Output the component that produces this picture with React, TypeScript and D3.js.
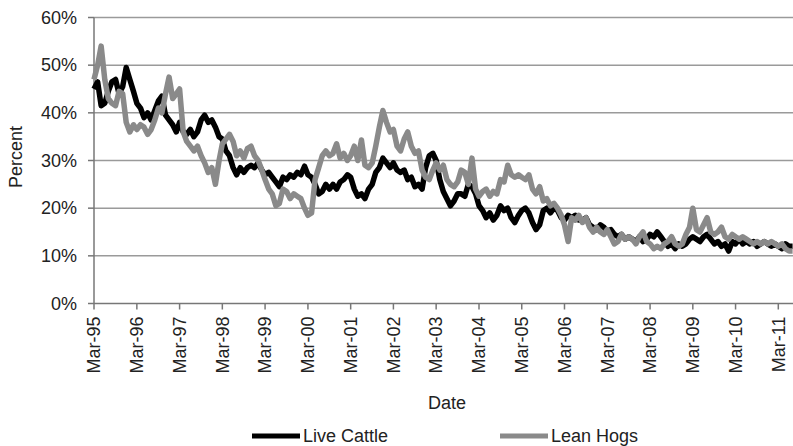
import * as d3 from "d3";

// monthly readings, starting Mar-95 (percent)
const startMonth = new Date(1995, 2, 1);

const liveCattle = [
  45, 46.5, 41.5, 42, 44.5, 46.5, 47, 44, 45.5, 49.5, 47, 44.5,
  42, 41, 39, 40, 38.5, 40.5, 42.5, 43.5, 39.5, 38.5, 37.5, 36,
  38, 36, 35.5, 36.5, 35, 36, 38.5, 39.5, 38, 38.5, 37, 35,
  34.5, 32, 31, 28.5, 27, 28.5, 27.5, 28.5, 29, 28.5, 29.5, 28,
  27, 27.5, 26.5, 25.5, 24.5, 26.5, 26, 27, 26.5, 27.5, 27, 28.8,
  27, 26.5, 25, 23, 23.5, 25, 24, 25, 24, 25.5, 26, 27,
  26.5, 24, 22.5, 23, 22, 24, 25, 27.5, 28.5, 30.5, 29.5, 28.5,
  29.5, 28, 27.5, 28, 26, 26.5, 24.5, 25, 24, 28.5, 31, 31.5,
  30, 26, 23.5, 22, 20.5, 21.5, 23, 23, 22.5, 25, 24.5, 23,
  20.5, 19.5, 18, 19, 17.5, 18.5, 20.5, 19.5, 20, 18, 17, 18.5,
  19.5, 20, 19, 17, 15.5, 16.5, 19.5, 20, 19, 20, 19.5, 18,
  17.5, 18.5, 18, 18.5, 17.5, 17.5, 18, 16.5, 16, 15.5, 16.5, 16,
  15, 15.5, 14.5, 14, 14.5, 13.5, 14, 13.5, 13, 14, 13, 13.5,
  14.5, 14, 15, 14, 13, 12, 12.5, 11.5, 12.5, 12, 12.5, 13.5,
  14, 13.5, 13, 14, 14.5, 13.5, 12.5, 13, 12, 12.5, 11, 13,
  12.5, 13.5, 12.5, 13, 12.5, 13, 12, 12.5, 13, 12.5, 12, 12.5,
  12, 11.5, 12.5, 12, 12,
];

const leanHogs = [
  47, 50, 54, 47, 43, 42, 41.5, 44.5, 44, 38, 36, 37.5,
  36.5, 37.5, 37, 35.5, 36.5, 38.5, 41, 40, 44, 47.5, 43, 44,
  45, 36, 34, 33, 32, 33, 31, 29.5, 27.5, 28.5, 25, 30,
  33.5, 34.5, 35.5, 34, 31, 32, 30.5, 32.5, 33, 31, 30, 28,
  26, 24, 23, 20.5, 21, 24, 23.5, 22, 23, 22.5, 22, 20,
  18.5, 19, 26, 28.5, 31, 32, 31, 31.5, 33.5, 30.5, 31.5, 30,
  31, 33, 30, 34.3, 29, 28.5, 29.5, 33, 37, 40.5, 38, 36,
  36.5, 33, 32, 34.5, 36, 33, 31.5, 32, 28, 26.5, 26, 28,
  29.5, 28, 29, 26, 25, 24.5, 25.5, 28, 27.5, 25, 30.5, 24,
  22.5, 23.5, 24, 22.5, 23.5, 23, 26, 25.5, 29, 27, 26.5, 27,
  26.5, 26, 27, 24, 23, 24.5, 21.5, 22, 20.5, 21, 20, 18.5,
  16.5, 13, 18, 17.5, 18.5, 17, 18, 16, 15, 16, 15, 14.5,
  15.5, 14, 12.5, 13, 14.5, 13.5, 14, 13.5, 12.5, 14, 15, 13,
  12.5, 11.5, 12, 11.5, 12.5, 13, 14, 12.5, 12, 12.5, 14.5, 16,
  20, 15.5, 15, 16.5, 18, 15, 14.5, 15, 16, 14, 13.5, 14.5,
  14, 13.5, 14, 13.5, 13, 12.5, 13, 12.5, 13, 12.5, 13, 12.5,
  12, 12.5, 11.5, 11, 11,
];

const yTicks = [0, 10, 20, 30, 40, 50, 60];
const xTickLabels = [
  "Mar-95", "Mar-96", "Mar-97", "Mar-98", "Mar-99", "Mar-00", "Mar-01", "Mar-02", "Mar-03",
  "Mar-04", "Mar-05", "Mar-06", "Mar-07", "Mar-08", "Mar-09", "Mar-10", "Mar-11",
];
const seriesNames = ["Live Cattle", "Lean Hogs"];
const colors = ["#000000", "#8a8a8a"];

const W = 793, H = 446;
const font = "'Liberation Sans', Arial, sans-serif";

export default function App() {
  const x = d3
    .scaleTime()
    .domain([new Date(1995, 2, 1), new Date(2011, 2, 1)])
    .range([94, 778.3]);
  const y = d3.scaleLinear().domain([0, 60]).range([303.5, 17.5]);

  const line = d3
    .line<number>()
    .x((_, i) => x(d3.timeMonth.offset(startMonth, i)))
    .y((d) => y(d));

  const tickDates = xTickLabels.map((_, i) => new Date(1995 + i, 2, 1));

  return (
    <svg
      width={W}
      height={H}
      style={{ position: "absolute", left: 0, top: 0, background: "#fff" }}
      fontFamily={font}
    >
      {/* grid */}
      {yTicks.slice(1).map((t) => (
        <line key={t} x1={94} x2={W} y1={y(t)} y2={y(t)} stroke="#9a9a9a" strokeWidth={1.5} />
      ))}
      {/* y axis */}
      <line x1={94} x2={94} y1={y(60)} y2={y(0)} stroke="#777" strokeWidth={1.5} />
      {yTicks.map((t) => (
        <g key={t}>
          <line x1={88} x2={94} y1={y(t)} y2={y(t)} stroke="#777" strokeWidth={1.5} />
          <text x={77} y={y(t)} dy="0.35em" textAnchor="end" fontSize={18} fill="#222">
            {t + "%"}
          </text>
        </g>
      ))}
      {/* x axis */}
      <line x1={94} x2={W} y1={y(0)} y2={y(0)} stroke="#777" strokeWidth={1.5} />
      {tickDates.map((d, i) => (
        <g key={i}>
          <line x1={x(d)} x2={x(d)} y1={y(0)} y2={y(0) + 6} stroke="#777" strokeWidth={1.5} />
          <text
            transform={`translate(${x(d)},${y(0) + 13}) rotate(-90)`}
            dy="0.35em"
            textAnchor="end"
            fontSize={18}
            fill="#222"
          >
            {xTickLabels[i]}
          </text>
        </g>
      ))}
      {/* series */}
      <path d={line(liveCattle) ?? ""} fill="none" stroke={colors[0]} strokeWidth={5.5} strokeLinejoin="round" />
      <path d={line(leanHogs) ?? ""} fill="none" stroke={colors[1]} strokeWidth={5.5} strokeLinejoin="round" />
      {/* axis titles */}
      <text transform="translate(16,157) rotate(-90)" dy="0.35em" textAnchor="middle" fontSize={18} fill="#222">
        Percent
      </text>
      <text x={447} y={403} dy="0.35em" textAnchor="middle" fontSize={18} fill="#222">
        Date
      </text>
      {/* legend */}
      {seriesNames.map((name, i) => {
        const lx = i === 0 ? 252 : 500;
        return (
          <g key={name}>
            <line x1={lx} x2={lx + 48} y1={436} y2={436} stroke={colors[i]} strokeWidth={5} />
            <text x={lx + 51} y={436} dy="0.35em" fontSize={18} fill="#222">
              {name}
            </text>
          </g>
        );
      })}
    </svg>
  );
}
